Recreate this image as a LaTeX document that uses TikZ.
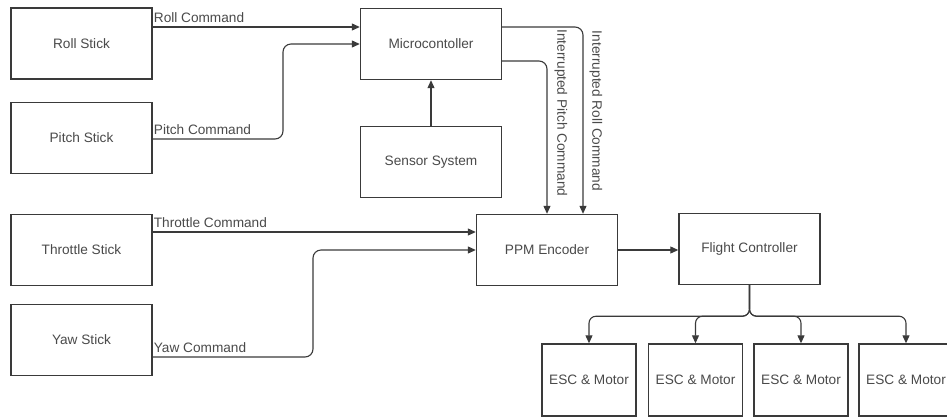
\documentclass[tikz,border=0pt]{standalone}
\usepackage{fontspec}
\setmainfont{Liberation Sans}
\usetikzlibrary{arrows.meta}
\definecolor{ink}{HTML}{3A3A3A}
\definecolor{txt}{HTML}{4A4A4A}
\begin{document}
\begin{tikzpicture}[x=1bp,y=-1bp,
  every node/.style={font=\fontsize{13.7}{16}\selectfont, text=txt},
  blk/.style={draw=ink, line width=1.4bp, fill=white, inner sep=0pt},
  bigblk/.style={blk, minimum width=141bp, minimum height=71bp},
  escblk/.style={blk, minimum width=94bp, minimum height=72bp},
  conn/.style={draw=ink, line width=1.1bp, rounded corners=8bp},
  arr/.style={conn, -{Triangle[length=8bp,width=7bp]}},
  lbl/.style={inner sep=1bp}
]
\useasboundingbox (0,0) rectangle (947,419);
\clip (0,0) rectangle (947,419);

% blocks
\node[bigblk] (roll)   at (81.5,43.5) {Roll Stick};
\node[bigblk] (pitch)  at (81.5,138)  {Pitch Stick};
\node[bigblk] (thr)    at (81.5,250)  {Throttle Stick};
\node[bigblk] (yaw)    at (81.5,340)  {Yaw Stick};
\node[bigblk] (micro)  at (431,44)    {Microcontoller};
\node[bigblk] (sensor) at (431,162)   {Sensor System};
\node[bigblk] (ppm)    at (547,250)   {PPM Encoder};
\node[bigblk] (fc)     at (749.5,249) {Flight Controller};
\node[escblk] (esc1) at (589,380)   {ESC \& Motor};
\node[escblk] (esc2) at (695.5,380) {ESC \& Motor};
\node[escblk] (esc3) at (801,380)   {ESC \& Motor};
\node[escblk] (esc4) at (906,380)   {ESC \& Motor};

% level helpers
\coordinate (yroll) at (0,27);
\coordinate (ypitch) at (0,139);
\coordinate (ypin) at (0,44);
\coordinate (ythr) at (0,232);
\coordinate (yyaw) at (0,357);
\coordinate (yyin) at (0,250);
\coordinate (yipitch) at (0,61);
\coordinate (xpv) at (283,0);
\coordinate (xyv) at (313,0);
\coordinate (xipitch) at (547,0);
\coordinate (xiroll) at (583,0);

% stick commands
\draw[arr] (roll.east |- yroll) coordinate (rs) -- (micro.west |- yroll);
\node[lbl, anchor=south west, yshift=3bp] at (rs) {Roll Command};

\draw[arr] (pitch.east |- ypitch) coordinate (ps) -- (xpv |- ypitch) -- (xpv |- ypin) -- (micro.west |- ypin);
\node[lbl, anchor=south west, yshift=3bp] at (ps) {Pitch Command};

\draw[arr] (thr.east |- ythr) coordinate (ts) -- (ppm.west |- ythr);
\node[lbl, anchor=south west, yshift=3bp] at (ts) {Throttle Command};

\draw[arr] (yaw.east |- yyaw) coordinate (ys) -- (xyv |- yyaw) -- (xyv |- yyin) -- (ppm.west |- yyin);
\node[lbl, anchor=south west, yshift=3bp] at (ys) {Yaw Command};

% sensor to micro
\draw[arr] (sensor.north) -- (micro.south);

% interrupted commands
\draw[arr] (micro.east |- yroll) -- (xiroll |- yroll) -- (xiroll |- ppm.north);
\draw[arr] (micro.east |- yipitch) -- (xipitch |- yipitch) -- (xipitch |- ppm.north);
\node[lbl, rotate=-90] (lip) at (561,113) {Interrupted Pitch Command};
\node[lbl, rotate=-90] (lir) at (596,111) {Interrupted Roll Command};

% ppm to flight controller
\draw[arr] (ppm.east) -- (fc.west |- ppm.east);

% flight controller to ESCs
\foreach \e in {esc1,esc2,esc3,esc4}{
  \draw[arr, rounded corners=7bp] (fc.south) -- ++(0,31) -| (\e.north);
}
\end{tikzpicture}
\end{document}
